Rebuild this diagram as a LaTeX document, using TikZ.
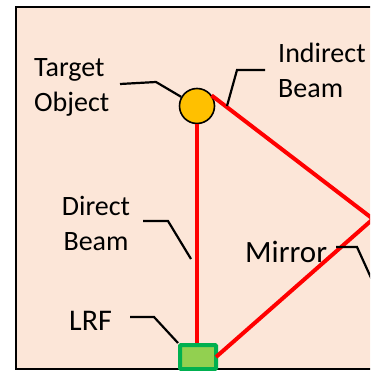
\documentclass[tikz,border=0pt]{standalone}
\usepackage{fontspec}
\setmainfont{Carlito}
\definecolor{bgpeach}{HTML}{FCE6D8}
\definecolor{beamred}{HTML}{FF0000}
\definecolor{targetyellow}{HTML}{FFC000}
\definecolor{lrfdark}{HTML}{00B050}
\definecolor{lrflight}{HTML}{92D050}
\begin{document}
\begin{tikzpicture}[x=1pt,y=-1pt,
  beam/.style={draw=beamred,line width=4pt},
  leader/.style={draw=black,line width=2.2pt},
  lbl/.style={inner sep=0pt,font=\fontsize{28}{35}\selectfont}]
\useasboundingbox (0,0) rectangle (370,371);
\clip (0,0) rectangle (370,371);
\draw[fill=bgpeach,line width=2.5pt] (16,7) rectangle (420,369);
% points
\coordinate (mirror) at (373,219);
\node[circle,draw=black,line width=1.6pt,fill=targetyellow,minimum size=35pt,inner sep=0pt] (target) at (197,106) {};
\node[draw=lrfdark,line width=4pt,fill=lrflight,minimum width=36pt,minimum height=24pt,inner sep=0pt,rounded corners=1pt] (lrf) at (198,357) {};
% beams
\draw[beam] (target.south) -- (target.south |- lrf.north);
\draw[beam] (target) ++(-36:18) -- (mirror);
\draw[beam] (lrf.east) ++(-2,0) -- (mirror);
% labels
\node[lbl,anchor=base west,align=left] (tlabel) at (34,112) {Target\\Object};
\node[lbl,anchor=base west,align=left] (ilabel) at (278,98) {Indirect\\Beam};
\node[lbl,anchor=base,align=center] (dlabel) at (96,250) {Direct\\Beam};
\node[lbl,anchor=base west,font=\fontsize{30}{35}\selectfont] (llabel) at (69,330) {LRF};
\node[lbl,anchor=base west,font=\fontsize{31}{35}\selectfont] (mlabel) at (245,262) {Mirror};
% leaders
\draw[leader] (120,84) -- (156,82) -- (target.150);
\draw[leader] (265,70) -- (237,70) -- (227,106);
\draw[leader] (143,221) -- (168,221) -- (191,259);
\draw[leader] (130,317) -- (154,317) -- (lrf.north west);
\draw[leader] (336,247) -- (357,247) -- (372,280);
\end{tikzpicture}
\end{document}
